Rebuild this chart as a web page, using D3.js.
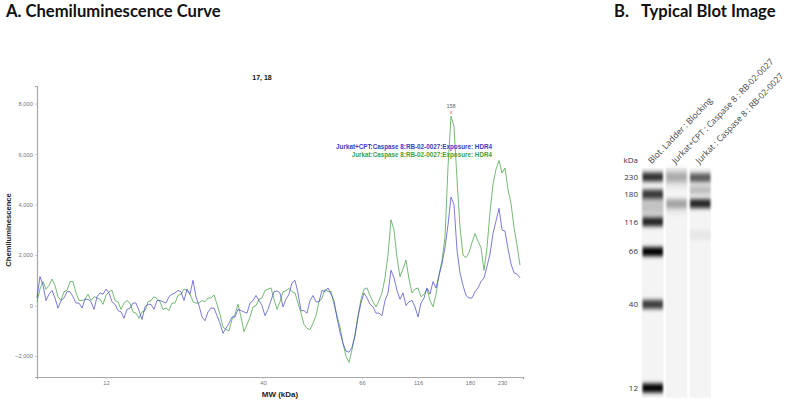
<!DOCTYPE html>
<html>
<head>
<meta charset="utf-8">
<script src="https://cdnjs.cloudflare.com/ajax/libs/d3/7.8.5/d3.min.js"></script>
<style>
  html, body { margin: 0; padding: 0; background: #fff; }
  svg { display: block; }
</style>
</head>
<body>
<div id="chart"></div>
<script>
// ladder calibration: molecular weight and the sample position where it elutes
var ladderMW = [12, 40, 66, 116, 180, 230];
var ladderPos = [23, 75.3, 108.3, 127, 144.3, 155];

var yTicks = [-2000, 0, 2000, 4000, 6000, 8000];

var seriesNames = [
  'Jurkat+CPT:Caspase 8:RB-02-0027:Exposure: HDR4',
  'Jurkat:Caspase 8:RB-02-0027:Exposure: HDR4'
];

// chemiluminescence per sample position (0..161)
var cptValues = [
  300, 1150, 800, 200, 450, 600, 300, -100, 200, 300,
  550, 550, 350, 100, 100, -100, 250, 250, 150, -150,
  350, 500, 450, 650, 500, 150, 50, -200, -250, -500,
  -150, -100, 100, 100, -200, -550, -50, 50, 50, -150,
  200, 200, 150, 100, 350, 450, 500, 600, 550, 200,
  650, 450, 1000, 350, 0, -450, -600, -250, -100, -100,
  -400, -700, -1100, -900, -700, -450, -450, -150, -200, -250,
  -300, 100, 200, 400, 200, 0, -400, -150, 200, 550,
  580, 500, -50, 250, 450, 900, 1000, 500, -200, -200,
  -300, 200, 400, 150, 150, 600, 550, 700, 450, 200,
  -500, -1050, -1500, -1800, -1850, -1650, -1200, -450, 100, 500,
  300, 50, -50, -300, -300, -400, 200, 500, 1400, 1100,
  600, 250, 500, 0, 150, 200, -50, -450, 100, 300,
  700, 450, 950, 700, 1200, 1650, 2300, 3200, 4300, 4000,
  2200, 1300, 800, 400, 300, 300, 550, 700, 950, 1100,
  1550, 2050, 2850, 3350, 3850, 3000, 2950, 2250, 1650, 1300,
  1250, 1100
];

var jurkatValues = [
  150, 650, 950, 650, 800, 1050, 800, 350, 200, 550,
  600, 950, 950, 500, 200, 200, 250, 450, 200, 350,
  300, 250, 50, 400, 550, 600, 200, 150, -150, 100,
  200, 100, -250, -300, -500, -250, -200, 150, 200, 350,
  280, 150, -150, -100, -200, 100, 100, 400, 450, 650,
  600, 450, 150, 100, 100, 200, 150, 300, 300, 420,
  50, -350, -850, -950, -1000, -550, -350, 50, -450, -1030,
  -750, -450, -50, 0, 250, 300, 600, 650, 700, 250,
  -150, 150, 550, 580, 680, 550, 500, 100, -300, -750,
  -900, -950, -700, -400, 150, 300, 650, 550, 550, 50,
  -400, -850, -1500, -2000, -2250, -1750, -1150, -400, 250, 650,
  700, 400, 150, -50, 200, 500, 1100, 2000, 3400, 3000,
  1900, 1150, 1450, 1800, 1050, 500, 650, 700, 350, 450,
  650, 200, -50, 450, 1200, 1800, 2700, 5500, 7500, 7100,
  5000, 3100, 2000, 1900, 2100, 2500, 2850, 2550, 2300, 1400,
  2300, 3700, 4800, 5400, 5750, 5250, 5450, 4600, 4050, 3100,
  2400, 1600
];

var peakMW = 158;

// blot lanes
var laneNames = [
  'Blot. Ladder : Blocking',
  'Jurkat+CPT : Caspase 8 : RB-02-0027',
  'Jurkat : Caspase 8 : RB-02-0027'
];
var ladderBandMW = [230, 180, 116, 66, 40, 12];
var ladderBandIntensity = [0.8, 0.76, 0.85, 1.0, 0.75, 1.0];
var cptBandMW = [230, 158, 143];
var cptBandIntensity = [0.2, 0.32, 0.05];
var jurkatBandMW = [228, 192, 158, 94];
var jurkatBandIntensity = [0.62, 0.22, 0.85, 0.06];
var ladderSmearMW = [130, 176];
var cptSmearMW = [205, 252];

(function ChemiluminescenceFigure() {

  'use strict';

  // vars
  var _svg,
    _width = 787,
    _height = 402,
    _plotLeft = 37,
    _plotRight = 523,
    _plotTop = 86,
    _plotBottom = 377,
    _blue = '#3b3bc4',
    _green = '#3f9f3f',
    _chartFont = '"Liberation Sans", Arial, sans-serif',
    _titleFont = 'Lato, "Open Sans", sans-serif',
    _blotFont = '"Open Sans", sans-serif';

  var mwToPos = d3.scaleLinear().domain(ladderMW).range(ladderPos);

  // auto activation
  activate();

  // method definitions
  function activate() {
    _svg = d3.select('#chart')
      .append('svg')
      .attr('width', _width)
      .attr('height', _height);

    renderTitles();
    renderCurve();
    renderBlot();
  }

  function addTitle(x, text) {
    _svg.append('text')
      .attr('x', x)
      .attr('y', 17)
      .style('font-family', _titleFont)
      .style('font-weight', 700)
      .style('font-size', '16.6px')
      .attr('fill', '#111')
      .text(text);
  }

  function renderTitles() {
    addTitle(6, 'A. Chemiluminescence Curve');
    addTitle(614, 'B.');
    addTitle(641, 'Typical Blot Image');
  }

  function renderCurve() {
    var x = d3.scaleLinear()
      .domain([0, cptValues.length])
      .range([_plotLeft, _plotRight]);

    var y = d3.scaleLinear()
      .domain([-2830, 8700])
      .range([_plotBottom, _plotTop]);

    var g = _svg.append('g').attr('class', 'curve');

    // chart title
    g.append('text')
      .attr('x', 262)
      .attr('y', 80)
      .attr('text-anchor', 'middle')
      .style('font-family', _chartFont)
      .style('font-weight', 700)
      .style('font-size', '7px')
      .attr('fill', '#111')
      .text('17, 18');

    // axes
    var yAxis = g.append('g')
      .attr('transform', 'translate(' + _plotLeft + ',0)')
      .call(d3.axisLeft(y)
        .tickValues(yTicks)
        .tickFormat(d3.format(','))
        .tickSize(2)
        .tickPadding(2));

    var xAxis = g.append('g')
      .attr('transform', 'translate(0,' + _plotBottom + ')')
      .call(d3.axisBottom(x)
        .tickValues(ladderPos)
        .tickFormat(function(d, i) { return ladderMW[i]; })
        .tickSize(2)
        .tickPadding(2));

    [yAxis, xAxis].forEach(function styleAxis(axis) {
      axis.select('.domain').attr('stroke', '#a8a8a8').attr('stroke-width', 1.2);
      axis.selectAll('.tick line').attr('stroke', '#c8c8c8');
      axis.selectAll('.tick text')
        .style('font-family', _chartFont)
        .style('font-size', '5.8px')
        .attr('fill', '#777');
    });

    // axis labels
    g.append('text')
      .attr('transform', 'translate(11,230) rotate(-90)')
      .attr('text-anchor', 'middle')
      .style('font-family', _chartFont)
      .style('font-weight', 700)
      .style('font-size', '7.6px')
      .attr('fill', '#222')
      .text('Chemiluminescence');

    g.append('text')
      .attr('x', 280)
      .attr('y', 397)
      .attr('text-anchor', 'middle')
      .style('font-family', _chartFont)
      .style('font-weight', 700)
      .style('font-size', '8px')
      .attr('fill', '#222')
      .text('MW (kDa)');

    // traces
    var line = d3.line()
      .x(function(d, i) { return x(i); })
      .y(function(d) { return y(d); });

    g.append('path')
      .datum(jurkatValues)
      .attr('d', line)
      .attr('fill', 'none')
      .attr('stroke', _green)
      .attr('stroke-width', 0.8)
      .attr('stroke-opacity', 0.9);

    g.append('path')
      .datum(cptValues)
      .attr('d', line)
      .attr('fill', 'none')
      .attr('stroke', _blue)
      .attr('stroke-width', 0.8)
      .attr('stroke-opacity', 0.85);

    // legend
    var legendColors = [_blue, _green];
    g.selectAll('.legend')
      .data(seriesNames)
      .enter()
      .append('text')
      .attr('class', 'legend')
      .attr('x', 492)
      .attr('y', function(d, i) { return 149 + i * 8; })
      .attr('text-anchor', 'end')
      .style('font-family', _chartFont)
      .style('font-weight', 700)
      .style('font-size', '6.3px')
      .attr('fill', function(d, i) { return legendColors[i]; })
      .text(function(d) { return d; });

    // peak annotation
    var peakX = x(mwToPos(peakMW));
    g.append('text')
      .attr('x', peakX - 1)
      .attr('y', 108)
      .attr('text-anchor', 'middle')
      .style('font-family', _chartFont)
      .style('font-size', '5.6px')
      .attr('fill', '#666')
      .text(peakMW);

    g.append('text')
      .attr('x', peakX - 1)
      .attr('y', 114)
      .attr('text-anchor', 'middle')
      .style('font-family', _chartFont)
      .style('font-size', '5px')
      .attr('fill', '#e04040')
      .text('v');
  }

  function renderBlot() {
    var blotY = d3.scaleLinear()
      .domain([ladderPos[0], ladderPos[ladderPos.length - 1]])
      .range([388, 177]);

    var laneX = d3.scaleBand()
      .domain(laneNames)
      .range([642, 711])
      .paddingInner(0.1);

    var laneTop = blotY(160.5),
      laneBottom = blotY(17),
      bandHeight = 9;

    var g = _svg.append('g').attr('class', 'blot');

    var defs = _svg.append('defs');
    defs.append('filter')
      .attr('id', 'bandBlur')
      .attr('x', '-20%').attr('y', '-100%')
      .attr('width', '140%').attr('height', '300%')
      .append('feGaussianBlur')
      .attr('stdDeviation', '0.8 2.2');

    defs.append('filter')
      .attr('id', 'smearBlur')
      .attr('x', '-20%').attr('y', '-50%')
      .attr('width', '140%').attr('height', '200%')
      .append('feGaussianBlur')
      .attr('stdDeviation', '0.8 3');

    // lane backgrounds
    g.selectAll('.lane')
      .data(laneNames)
      .enter()
      .append('rect')
      .attr('class', 'lane')
      .attr('x', function(d) { return laneX(d); })
      .attr('y', laneTop)
      .attr('width', laneX.bandwidth())
      .attr('height', laneBottom - laneTop)
      .attr('fill', '#f4f4f4');

    var lanes = [
      { name: laneNames[0], mw: ladderBandMW, intensity: ladderBandIntensity, smear: ladderSmearMW, smearLevel: 0.2 },
      { name: laneNames[1], mw: cptBandMW, intensity: cptBandIntensity, smear: cptSmearMW, smearLevel: 0.12 },
      { name: laneNames[2], mw: jurkatBandMW, intensity: jurkatBandIntensity, smear: null, smearLevel: 0 }
    ];

    lanes.forEach(function drawLane(lane) {
      var lx = laneX(lane.name);

      if (lane.smear) {
        var top = Math.max(laneTop, blotY(mwToPos(lane.smear[1])));
        var bottom = blotY(mwToPos(lane.smear[0]));
        g.append('rect')
          .attr('x', lx)
          .attr('y', top)
          .attr('width', laneX.bandwidth())
          .attr('height', bottom - top)
          .attr('fill', '#000')
          .attr('fill-opacity', lane.smearLevel)
          .attr('filter', 'url(#smearBlur)');
      }

      g.selectAll(null)
        .data(lane.mw)
        .enter()
        .append('rect')
        .attr('x', lx + 0.5)
        .attr('y', function(d) { return blotY(mwToPos(d)) - bandHeight / 2; })
        .attr('width', laneX.bandwidth() - 1)
        .attr('height', bandHeight)
        .attr('fill', '#000')
        .attr('fill-opacity', function(d, i) { return lane.intensity[i]; })
        .attr('filter', 'url(#bandBlur)');
    });

    // ladder labels
    g.selectAll('.mw-label')
      .data(ladderMW)
      .enter()
      .append('text')
      .attr('class', 'mw-label')
      .attr('x', 638)
      .attr('y', function(d) { return blotY(mwToPos(d)); })
      .attr('dy', '0.35em')
      .attr('text-anchor', 'end')
      .style('font-family', _blotFont)
      .style('font-size', '8px')
      .attr('fill', '#333')
      .text(function(d) { return d; });

    g.append('text')
      .attr('x', 638)
      .attr('y', 160)
      .attr('dy', '0.35em')
      .attr('text-anchor', 'end')
      .style('font-family', _blotFont)
      .style('font-size', '8px')
      .attr('fill', '#333')
      .text('kDa');

    // lane labels
    g.selectAll('.lane-label')
      .data(laneNames)
      .enter()
      .append('text')
      .attr('class', 'lane-label')
      .attr('transform', function(d) {
        return 'translate(' + (laneX(d) + laneX.bandwidth() / 2 - 1) + ',' + (laneTop - 4) + ') rotate(-46)';
      })
      .style('font-family', _blotFont)
      .style('font-size', '8.5px')
      .attr('fill', '#444')
      .text(function(d) { return d; });
  }

})();
</script>
</body>
</html>
